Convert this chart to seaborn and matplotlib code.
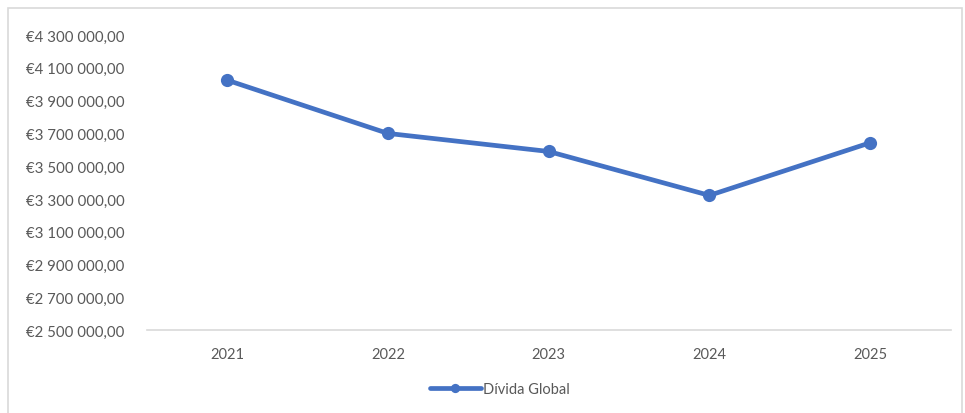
import pandas as pd
import seaborn as sns
import matplotlib.pyplot as plt
from matplotlib.ticker import FuncFormatter
from matplotlib.patches import Rectangle

anos = ['2021', '2022', '2023', '2024', '2025']
divida = [4025000, 3700000, 3590000, 3322000, 3643000]
yticks = [2500000, 2700000, 2900000, 3100000, 3300000,
          3500000, 3700000, 3900000, 4100000, 4300000]

data = pd.DataFrame({'Ano': anos, 'Dívida Global': divida})

sns.set_style('white')
plt.rcParams['font.family'] = ['Lato', 'DejaVu Sans']

fig = plt.figure(figsize=(9.65, 4.14), dpi=100)
ax = fig.add_axes([0.152, 0.200, 0.833, 0.713])

sns.lineplot(data=data, x='Ano', y='Dívida Global', ax=ax, color='#4472C4',
             linewidth=3.4, marker='o', markersize=9.5, markeredgewidth=0,
             label='Dívida Global', legend=False)

def euro(v, pos):
    s = '{:,.2f}'.format(v).replace(',', ' ').replace('.', ',')
    return '€' + s

ax.set_ylim(2500000, 4300000)
ax.set_xlim(-0.5, 4.5)
ax.set_yticks(yticks)
ax.yaxis.set_major_formatter(FuncFormatter(euro))
ax.set_xlabel('')
ax.set_ylabel('')

for s in ['top', 'right', 'left']:
    ax.spines[s].set_visible(False)
ax.spines['bottom'].set_color('#D9D9D9')
ax.spines['bottom'].set_linewidth(1.2)

ax.tick_params(axis='y', length=0, pad=16, labelsize=10.8, labelcolor='#595959')
ax.tick_params(axis='x', length=0, pad=12, labelsize=10.5, labelcolor='#595959')

leg = fig.legend(loc='center', bbox_to_anchor=(0.518, 0.058), frameon=False,
                 fontsize=10.5, labelcolor='#595959', handlelength=3.5,
                 handletextpad=0.15, markerscale=0.7)

# chart border
fig.patches.append(Rectangle((8 / 965, -0.1), 954 / 965, 1 - 9 / 414 + 0.1,
                             transform=fig.transFigure, fill=False,
                             edgecolor='#D9D9D9', linewidth=1.2))

fig.savefig('out.png', dpi=100)
